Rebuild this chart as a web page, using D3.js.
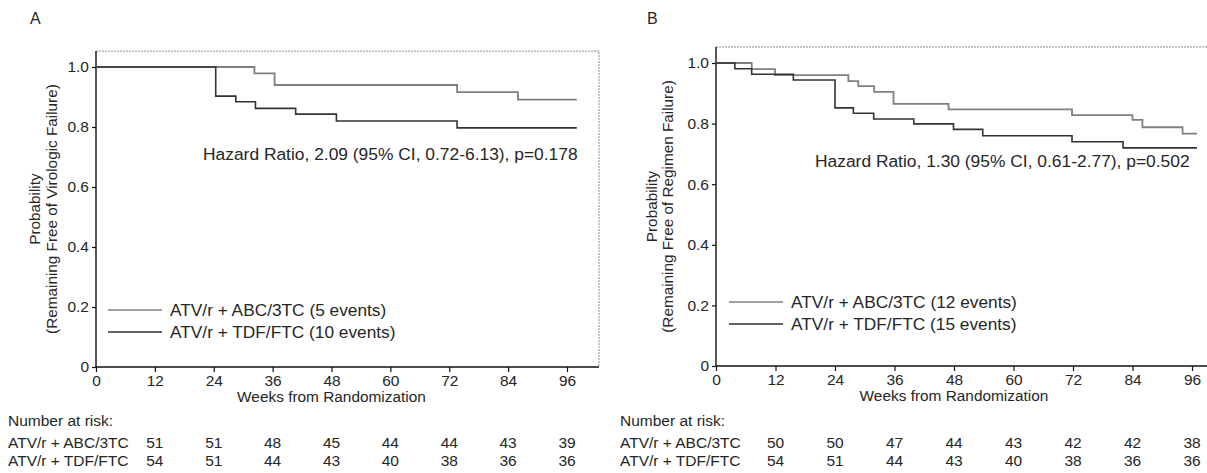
<!DOCTYPE html>
<html><head><meta charset="utf-8">
<script src="https://cdn.jsdelivr.net/npm/d3@7"></script>
<style>
body{margin:0;background:#fff}
svg{display:block}
text{font-family:"Liberation Sans",Arial,Helvetica,sans-serif;fill:#262626}
</style>
</head><body>
<svg id="c" width="1207" height="473"></svg>
<script>
// ---------- data ----------
const weekTicks = [0, 12, 24, 36, 48, 60, 72, 84, 96];
const probTicks = [0, 0.2, 0.4, 0.6, 0.8, 1.0];
const probTickLabels = ["0", "0.2", "0.4", "0.6", "0.8", "1.0"];
const groups = ["ATV/r + ABC/3TC", "ATV/r + TDF/FTC"];
// column (under which x tick) each number-at-risk value is printed
const atRiskColumns = [12, 24, 36, 48, 60, 72, 84, 96];

// Panel A (virologic failure) Kaplan-Meier steps
const aAbcWeeks = [0, 32.3, 36.4, 73.6, 86, 98];
const aAbcSurv  = [1, 0.979, 0.94, 0.916, 0.891, 0.891];
const aTdfWeeks = [0, 24.4, 28.5, 32.5, 40.7, 49, 73.6, 98];
const aTdfSurv  = [1, 0.903, 0.884, 0.862, 0.843, 0.82, 0.797, 0.797];
const aAtRiskAbc = [51, 51, 48, 45, 44, 44, 43, 39];
const aAtRiskTdf = [54, 51, 44, 43, 40, 38, 36, 36];
const aLegend = ["ATV/r + ABC/3TC (5 events)", "ATV/r + TDF/FTC (10 events)"];
const aHazard = "Hazard Ratio, 2.09 (95% CI, 0.72-6.13), p=0.178";

// Panel B (regimen failure) Kaplan-Meier steps
const bAbcWeeks = [0, 7.2, 11.9, 26.7, 28.7, 31.9, 35.8, 46.9, 71.8, 84, 86, 94.1, 97];
const bAbcSurv  = [1, 0.98, 0.96, 0.94, 0.924, 0.905, 0.865, 0.847, 0.828, 0.812, 0.788, 0.767, 0.767];
const bTdfWeeks = [0, 3.8, 7.2, 15.6, 24, 27.7, 31.8, 39.9, 47.9, 53.8, 71.8, 82.1, 97];
const bTdfSurv  = [1, 0.981, 0.963, 0.944, 0.852, 0.834, 0.815, 0.799, 0.781, 0.76, 0.74, 0.72, 0.72];
const bAtRiskAbc = [50, 50, 47, 44, 43, 42, 42, 38];
const bAtRiskTdf = [54, 51, 44, 43, 40, 38, 36, 36];
const bLegend = ["ATV/r + ABC/3TC (12 events)", "ATV/r + TDF/FTC (15 events)"];
const bHazard = "Hazard Ratio, 1.30 (95% CI, 0.61-2.77), p=0.502";

// ---------- drawing ----------
const svg = d3.select("#c");
const zip = (w, s) => w.map((d, i) => ({ w: d, s: s[i] }));
const FONT = "Liberation Sans,Arial,sans-serif";

function panel(cfg) {
  const g = svg.append("g");
  const x = d3.scaleLinear().domain([0, 96]).range([cfg.x0, cfg.x96]);
  const y = d3.scaleLinear().domain([0, 1]).range([cfg.y0, cfg.y1]);
  const yTop = y(cfg.yMax);

  // panel letter
  g.append("text").attr("x", cfg.letterX).attr("y", 24).attr("font-size", 16).text(cfg.letter);

  // frame top/right (light dotted)
  g.append("path")
    .attr("d", `M${cfg.x0},${yTop}H${cfg.xRight}V${cfg.y0}`)
    .attr("fill", "none").attr("stroke", "#8a8a8a").attr("stroke-width", 1)
    .attr("stroke-dasharray", "2,1");

  // y axis
  const ya = g.append("g").attr("transform", `translate(${cfg.x0},0)`)
    .call(d3.axisLeft(y).tickValues(probTicks).tickSize(4).tickPadding(3)
      .tickFormat((d, i) => probTickLabels[i]));
  ya.select(".domain").attr("d", `M0,${yTop}V${cfg.y0}`).attr("stroke", "#111").attr("stroke-width", 1.4);
  ya.selectAll(".tick line").attr("stroke", "#111").attr("stroke-width", 1.2);
  ya.selectAll(".tick text").attr("font-size", 15.5).attr("fill", "#262626").attr("font-family", FONT);

  // x axis
  const xa = g.append("g").attr("transform", `translate(0,${cfg.y0})`)
    .call(d3.axisBottom(x).tickValues(weekTicks).tickSize(5).tickPadding(3));
  xa.select(".domain").attr("d", `M${cfg.x0},0H${cfg.xRight}`).attr("stroke", "#111").attr("stroke-width", 1.4);
  xa.selectAll(".tick line").attr("stroke", "#111").attr("stroke-width", 1.2);
  xa.selectAll(".tick text").attr("font-size", 15.5).attr("fill", "#262626").attr("font-family", FONT);

  // axis titles
  g.append("text").attr("x", x(48)).attr("y", cfg.y0 + 35).attr("text-anchor", "middle")
    .attr("font-size", 15.4).text("Weeks from Randomization");
  const ym = (yTop + cfg.y0) / 2;
  g.append("text").attr("transform", `translate(${cfg.yl1},${ym}) rotate(-90)`)
    .attr("text-anchor", "middle").attr("font-size", 15.3).text("Probability");
  g.append("text").attr("transform", `translate(${cfg.yl2},${ym}) rotate(-90)`)
    .attr("text-anchor", "middle").attr("font-size", 15.3).text(cfg.yTitle);

  // curves
  const line = d3.line().x(d => x(d.w)).y(d => y(d.s)).curve(d3.curveStepAfter);
  g.append("path").datum(zip(cfg.abcW, cfg.abcS)).attr("d", line)
    .attr("fill", "none").attr("stroke", "#808080").attr("stroke-width", 1.8);
  g.append("path").datum(zip(cfg.tdfW, cfg.tdfS)).attr("d", line)
    .attr("fill", "none").attr("stroke", "#333333").attr("stroke-width", 1.6);

  // hazard text
  g.append("text").attr("x", cfg.hzX).attr("y", cfg.hzY).attr("font-size", 17.4).text(cfg.hazard);

  // legend
  const colors = ["#808080", "#333333"];
  cfg.legend.forEach((t, i) => {
    const ly = cfg.legY + i * 22;
    g.append("line").attr("x1", cfg.legX).attr("x2", cfg.legX + 54).attr("y1", ly).attr("y2", ly)
      .attr("stroke", colors[i]).attr("stroke-width", 1.5);
    g.append("text").attr("x", cfg.legX + 62).attr("y", ly + 6).attr("font-size", 17.3).text(t);
  });

  // number at risk
  g.append("text").attr("x", cfg.tabX).attr("y", 426).attr("font-size", 15.5).text("Number at risk:");
  const rows = [cfg.riskAbc, cfg.riskTdf];
  rows.forEach((vals, r) => {
    const ry = 448 + r * 18;
    g.append("text").attr("x", cfg.tabX).attr("y", ry).attr("font-size", 15.5).text(groups[r]);
    g.selectAll(null).data(atRiskColumns).enter().append("text")
      .attr("x", w => x(w))
      .attr("y", ry).attr("text-anchor", "middle").attr("font-size", 15.5)
      .attr("fill", "#3a3a3a")
      .text((w, i) => vals[i]);
  });
}

panel({
  letter: "A", letterX: 30,
  x0: 96, x96: 567, xRight: 599, y0: 367, y1: 67, yMax: 1.053,
  yl1: 40, yl2: 57, yTitle: "(Remaining Free of Virologic Failure)",
  abcW: aAbcWeeks, abcS: aAbcSurv, tdfW: aTdfWeeks, tdfS: aTdfSurv,
  hazard: aHazard, hzX: 203, hzY: 160,
  legend: aLegend, legX: 108, legY: 310,
  tabX: 8, riskAbc: aAtRiskAbc, riskTdf: aAtRiskTdf
});

panel({
  letter: "B", letterX: 647,
  x0: 716, x96: 1192, xRight: 1212, y0: 366, y1: 63, yMax: 1.053,
  yl1: 657, yl2: 673, yTitle: "(Remaining Free of Regimen Failure)",
  abcW: bAbcWeeks, abcS: bAbcSurv, tdfW: bTdfWeeks, tdfS: bTdfSurv,
  hazard: bHazard, hzX: 815, hzY: 167,
  legend: bLegend, legX: 729, legY: 302,
  tabX: 620, riskAbc: bAtRiskAbc, riskTdf: bAtRiskTdf
});
</script>
</body></html>
